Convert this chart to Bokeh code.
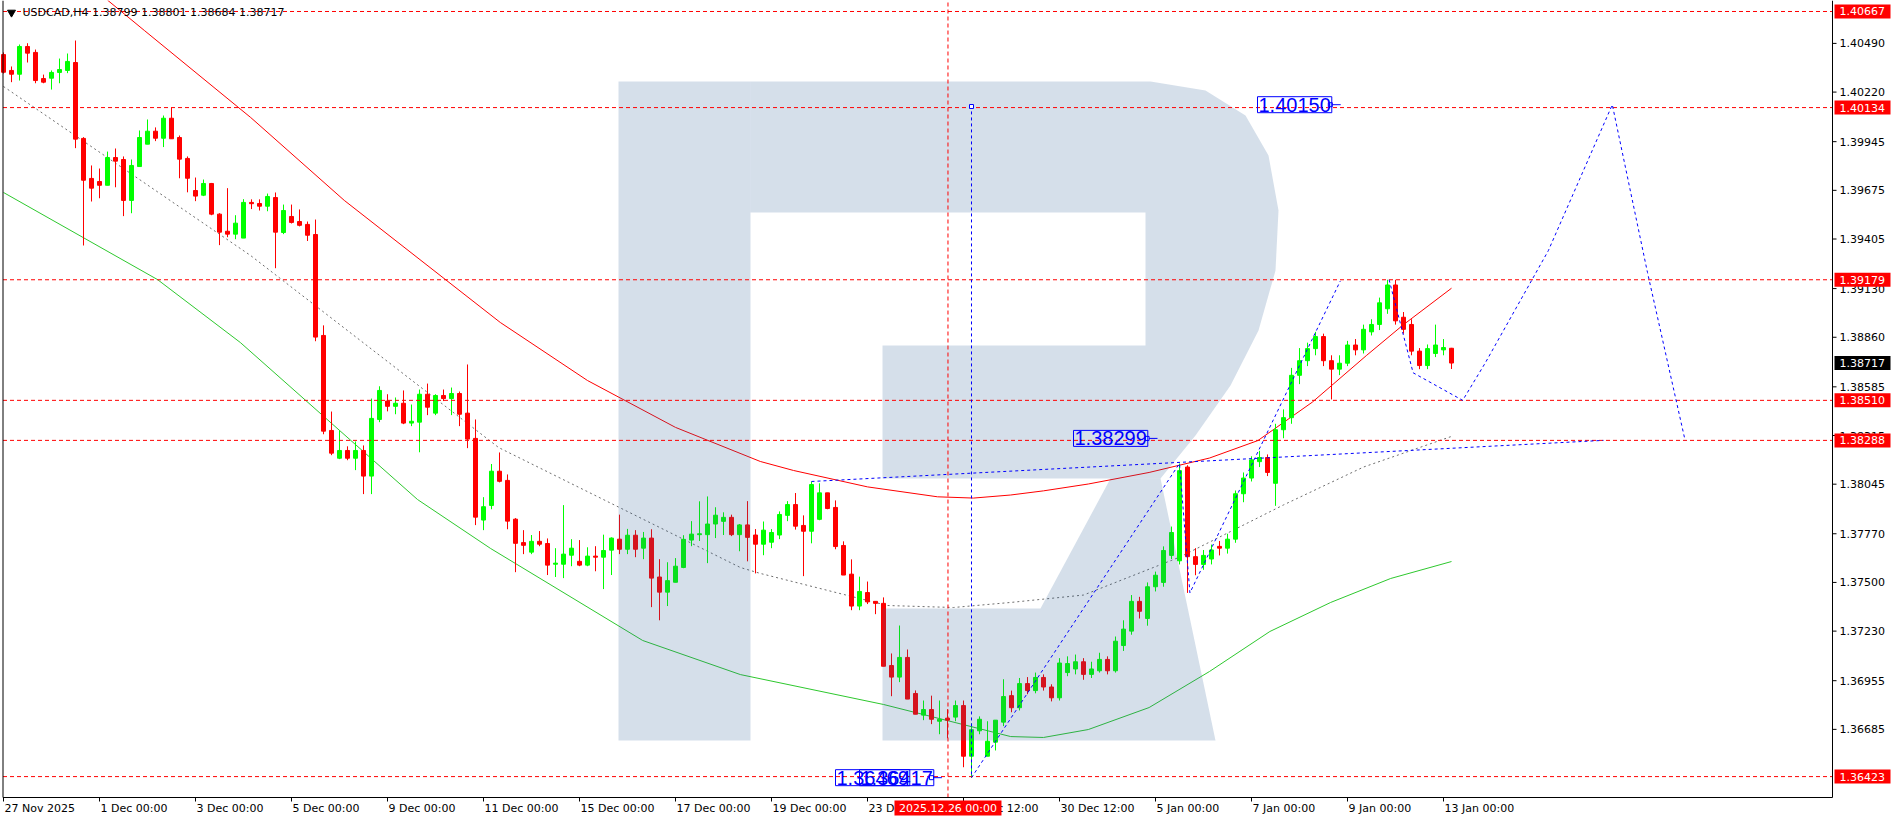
import numpy as np
from bokeh.plotting import figure
from bokeh.models import Range1d, Label
from bokeh.embed import file_html
from bokeh.resources import INLINE
from bokeh.core.properties import value

FONT = "DejaVu Sans"
NOTE_FONT = "Liberation Sans"

# ---------------- data (USDCAD H4) ----------------
bar_open = [1.40428,1.40340,1.40319,1.40473,1.40440,1.40295,1.40297,1.40329,1.40340,1.40384,
1.39963,1.39741,1.39724,1.39703,1.39857,1.39846,1.39619,1.39807,1.39931,1.40003,
1.39964,1.40075,1.39968,1.39852,1.39674,1.39648,1.39713,1.39543,1.39448,1.39432,
1.39410,1.39608,1.39602,1.39587,1.39635,1.39441,1.39530,1.39502,1.39486,1.39430,
1.38870,1.38343,1.38189,1.38232,1.38189,1.38232,1.38090,1.38404,1.38506,1.38477,
1.38494,1.38384,1.38389,1.38544,1.38439,1.38537,1.38520,1.38548,1.38439,1.38299,
1.37846,1.37927,1.38117,1.38066,1.37851,1.37721,1.37668,1.37728,1.37716,1.37601,
1.37601,1.37651,1.37617,1.37596,1.37646,1.37640,1.37679,1.37740,1.37684,1.37762,
1.37690,1.37746,1.37530,1.37446,1.37501,1.37583,1.37735,1.37765,1.37765,1.37824,
1.37839,1.37861,1.37765,1.37819,1.37763,1.37712,1.37723,1.37763,1.37872,1.37932,
1.37816,1.37784,1.37850,1.37997,1.37916,1.37705,1.37546,1.37369,1.37444,1.37395,
1.37384,1.37039,1.36975,1.37084,1.36884,1.36764,1.36795,1.36730,1.36747,1.36753,
1.36817,1.36536,1.36677,1.36536,1.36614,1.36725,1.36872,1.36805,1.36939,1.36900,
1.36973,1.36920,1.36860,1.37000,1.37020,1.37060,1.36990,1.37010,1.37073,1.37010,
1.37150,1.37230,1.37395,1.37300,1.37476,1.37500,1.37650,1.37620,1.38140,1.37643,
1.37600,1.37630,1.37700,1.37690,1.37740,1.37992,1.38079,1.38170,1.38193,1.38050,
1.38347,1.38414,1.38649,1.38730,1.38797,1.38864,1.38730,1.38683,1.38716,1.38817,
1.38790,1.38890,1.38931,1.39018,1.39150,1.38971,1.38931,1.38783,1.38703,1.38770,
1.38790,1.38799]
bar_high = [1.40440,1.40362,1.40484,1.40491,1.40456,1.40317,1.40340,1.40406,1.40434,1.40506,
1.39970,1.39813,1.39796,1.39890,1.39907,1.39863,1.39846,1.40007,1.40068,1.40024,
1.40090,1.40133,1.39979,1.39863,1.39746,1.39735,1.39716,1.39548,1.39687,1.39537,
1.39626,1.39625,1.39625,1.39657,1.39663,1.39596,1.39596,1.39569,1.39502,1.39513,
1.38926,1.38448,1.38343,1.38255,1.38282,1.38260,1.38520,1.38588,1.38544,1.38526,
1.38565,1.38487,1.38570,1.38603,1.38544,1.38570,1.38581,1.38559,1.38709,1.38404,
1.37973,1.38157,1.38221,1.38099,1.37857,1.37790,1.37763,1.37785,1.37744,1.37690,
1.37929,1.37740,1.37735,1.37695,1.37701,1.37765,1.37750,1.37876,1.37797,1.37790,
1.37780,1.37795,1.37629,1.37612,1.37635,1.37762,1.37840,1.37950,1.37977,1.37917,
1.37889,1.37876,1.37824,1.37951,1.37796,1.37838,1.37796,1.37894,1.37951,1.37996,
1.37872,1.38060,1.38050,1.37997,1.37955,1.37728,1.37628,1.37532,1.37505,1.37395,
1.37417,1.37106,1.37261,1.37128,1.36901,1.36845,1.36872,1.36845,1.36797,1.36845,
1.36845,1.36719,1.36757,1.36730,1.36736,1.36963,1.36900,1.36970,1.36975,1.37000,
1.36990,1.36935,1.37080,1.37090,1.37100,1.37080,1.37060,1.37110,1.37090,1.37200,
1.37290,1.37430,1.37420,1.37500,1.37560,1.37700,1.37810,1.38160,1.38150,1.37690,
1.37680,1.37710,1.37730,1.37770,1.38010,1.38110,1.38200,1.38230,1.38210,1.38380,
1.38460,1.38690,1.38800,1.38830,1.38890,1.38880,1.38760,1.38760,1.38840,1.38850,
1.38930,1.38960,1.39080,1.39179,1.39179,1.39000,1.38960,1.38800,1.38820,1.38930,
1.38850,1.38801]
bar_low = [1.40323,1.40275,1.40284,1.40384,1.40269,1.40269,1.40234,1.40269,1.40325,1.39909,
1.39369,1.39613,1.39631,1.39703,1.39692,1.39532,1.39548,1.39807,1.39931,1.39948,
1.39915,1.39961,1.39742,1.39664,1.39615,1.39643,1.39537,1.39371,1.39415,1.39404,
1.39410,1.39571,1.39563,1.39559,1.39243,1.39432,1.39491,1.39475,1.39394,1.38838,
1.38322,1.38206,1.38184,1.38178,1.38123,1.37990,1.37990,1.38389,1.38449,1.38433,
1.38378,1.38367,1.38222,1.38428,1.38428,1.38506,1.38428,1.38367,1.38245,1.37818,
1.37790,1.37906,1.38055,1.37795,1.37557,1.37657,1.37657,1.37701,1.37541,1.37530,
1.37524,1.37590,1.37590,1.37590,1.37562,1.37463,1.37541,1.37657,1.37657,1.37640,
1.37629,1.37363,1.37290,1.37369,1.37501,1.37579,1.37701,1.37730,1.37607,1.37746,
1.37763,1.37757,1.37673,1.37617,1.37550,1.37651,1.37690,1.37740,1.37840,1.37793,
1.37535,1.37717,1.37845,1.37906,1.37684,1.37541,1.37346,1.37346,1.37380,1.37324,
1.37035,1.36869,1.36947,1.36853,1.36769,1.36736,1.36714,1.36658,1.36636,1.36730,
1.36475,1.36417,1.36658,1.36536,1.36568,1.36703,1.36780,1.36790,1.36880,1.36885,
1.36900,1.36840,1.36845,1.36980,1.36990,1.36960,1.36970,1.37000,1.36990,1.37000,
1.37120,1.37210,1.37300,1.37260,1.37450,1.37476,1.37630,1.37600,1.37442,1.37540,
1.37570,1.37600,1.37650,1.37660,1.37720,1.37945,1.38060,1.38140,1.38090,1.37925,
1.38300,1.38380,1.38600,1.38700,1.38760,1.38700,1.38515,1.38650,1.38700,1.38760,
1.38770,1.38870,1.38900,1.38990,1.38930,1.38880,1.38760,1.38683,1.38683,1.38750,
1.38760,1.38684]
bar_close = [1.40330,1.40319,1.40473,1.40436,1.40284,1.40275,1.40329,1.40345,1.40390,1.39959,
1.39731,1.39687,1.39703,1.39857,1.39837,1.39619,1.39813,1.39968,1.40003,1.39964,
1.40075,1.39961,1.39848,1.39742,1.39643,1.39713,1.39543,1.39443,1.39432,1.39493,
1.39608,1.39601,1.39587,1.39641,1.39443,1.39563,1.39497,1.39481,1.39426,1.38861,
1.38339,1.38217,1.38232,1.38189,1.38232,1.38090,1.38410,1.38565,1.38477,1.38494,
1.38384,1.38394,1.38544,1.38472,1.38537,1.38520,1.38548,1.38433,1.38295,1.37862,
1.37920,1.38117,1.38061,1.37840,1.37717,1.37706,1.37728,1.37712,1.37596,1.37607,
1.37657,1.37690,1.37596,1.37646,1.37640,1.37677,1.37746,1.37684,1.37762,1.37684,
1.37746,1.37524,1.37446,1.37510,1.37590,1.37739,1.37768,1.37770,1.37824,1.37873,
1.37861,1.37765,1.37819,1.37750,1.37712,1.37790,1.37777,1.37877,1.37932,1.37812,
1.37784,1.38043,1.37997,1.37910,1.37699,1.37541,1.37369,1.37450,1.37392,1.37384,
1.37035,1.36975,1.37084,1.36853,1.36769,1.36795,1.36741,1.36741,1.36736,1.36817,
1.36536,1.36683,1.36741,1.36619,1.36736,1.36867,1.36805,1.36939,1.36900,1.36973,
1.36920,1.36860,1.37053,1.37050,1.37060,1.36990,1.37020,1.37073,1.37010,1.37174,
1.37241,1.37395,1.37340,1.37476,1.37540,1.37677,1.37777,1.38120,1.37643,1.37600,
1.37650,1.37680,1.37690,1.37740,1.37992,1.38079,1.38180,1.38193,1.38110,1.38347,
1.38414,1.38649,1.38730,1.38797,1.38864,1.38730,1.38683,1.38716,1.38817,1.38790,
1.38904,1.38931,1.39051,1.39150,1.38951,1.38904,1.38783,1.38703,1.38797,1.38817,
1.38803,1.38717]

# moving averages, read at selected bars
ma_red_bar = [13, 17.6, 30.9, 42.6, 62.1, 73, 84, 94.6, 98.75, 108, 116.75, 121.25, 125.9, 130, 135.6, 143.2, 150.75, 156.8, 163.6, 170.4, 175, 181]
ma_red_val = [1.40730, 1.40562, 1.40079, 1.39619, 1.38942, 1.38620, 1.38360, 1.38171, 1.38121, 1.38030, 1.37975, 1.37968, 1.37985, 1.38008, 1.38046, 1.38110, 1.38190, 1.38287, 1.38500, 1.38760, 1.38930, 1.39132]
ma_green_bar = [0, 19.25, 29.6, 51.75, 60.9, 79.9, 92.1, 110, 125.9, 130, 135.6, 143.2, 150.75, 158.3, 165.9, 173.4, 181]
ma_green_val = [1.39663, 1.39180, 1.38831, 1.37960, 1.37688, 1.37178, 1.36989, 1.36823, 1.36645, 1.36640, 1.36684, 1.36806, 1.37006, 1.37228, 1.37389, 1.37522, 1.37616]
ma_gray_bar = [0, 30.9, 61.9, 92.1, 94.6, 110.5, 118.75, 125.9, 135, 147, 160, 170, 181]
ma_gray_val = [1.40251, 1.39313, 1.38248, 1.37583, 1.37550, 1.37372, 1.37361, 1.37389, 1.37430, 1.37640, 1.37930, 1.38140, 1.38310]

# time axis
x_tick_bar = [0, 12, 24, 36, 48, 60, 72, 84, 96, 108, 120, 132, 144, 156, 168, 180]
x_tick_text = ["27 Nov 2025", "1 Dec 00:00", "3 Dec 00:00", "5 Dec 00:00", "9 Dec 00:00",
               "11 Dec 00:00", "15 Dec 00:00", "17 Dec 00:00", "19 Dec 00:00", "23 Dec 00:00",
               "26 Dec 12:00", "30 Dec 12:00", "5 Jan 00:00", "7 Jan 00:00", "9 Jan 00:00", "13 Jan 00:00"]
# price axis
y_tick_val = [1.40490, 1.40220, 1.39945, 1.39675, 1.39405, 1.39130, 1.38860, 1.38585,
              1.38315, 1.38045, 1.37770, 1.37500, 1.37230, 1.36955, 1.36685]
y_tick_text = ["1.40490", "1.40220", "1.39945", "1.39675", "1.39405", "1.39130", "1.38860", "1.38585",
               "1.38315", "1.38045", "1.37770", "1.37500", "1.37230", "1.36955", "1.36685"]

# horizontal levels
level_val = [1.40667, 1.40134, 1.39179, 1.38510, 1.38288, 1.36423]
level_text = ["1.40667", "1.40134", "1.39179", "1.38510", "1.38288", "1.36423"]
last_price = 1.38717
last_text = "1.38717"
cursor_bar = 118.06
cursor_text = "2025.12.26 00:00"
title_text = "USDCAD,H4  1.38799 1.38801 1.38684 1.38717"

# forecast drawings (bar index, price)
fc_vert_bar = 121
fc_vert_top = 1.40140
fc_vert_bottom = 1.36435
fc_wave_bar = [121, 147, 148.3, 167.1]
fc_wave_val = [1.36417, 1.38160, 1.37442, 1.39172]
fc_trend_bar = [101, 200]
fc_trend_val = [1.38060, 1.38288]
fc_path_bar = [173.2, 176.2, 182.4, 185.2, 193.1, 201.1, 205.5, 210.2]
fc_path_val = [1.39179, 1.38663, 1.38510, 1.38716, 1.39340, 1.40150, 1.39219, 1.38288]
note_bar = [156.75, 133.75]
note_val = [1.40150, 1.38299]
note_text = ["1.40150", "1.38299"]
low_note_bar = [104.0, 107.0]
low_note_text = ["1.36469", "1.36417"]
low_note_val = 1.36417

# ---------------- figure: one frame over the whole canvas ----------------
W, H = 1892, 818
PPB = 8.0                    # pixels per bar
PPP = 1.0 / 0.00005547       # pixels per price unit
X0 = -3 / PPB
Y_TOP = 1.40728
Y_BOT = Y_TOP - H / PPP

p = figure(frame_width=W, frame_height=H, x_range=Range1d(X0, X0 + W / PPB),
           y_range=Range1d(Y_BOT, Y_TOP), x_axis_location=None, y_axis_location=None,
           output_backend="svg", toolbar_location=None,
           min_border_left=0, min_border_right=0, min_border_top=0, min_border_bottom=0,
           background_fill_color="white", border_fill_color="white")
p.outline_line_color = None
p.xgrid.visible = False
p.ygrid.visible = False

def bx(px_):       # bar coordinate of a canvas x (decoration only)
    return X0 + px_ / PPB

def py(px_):       # price coordinate of a canvas y (decoration only)
    return Y_TOP - px_ / PPP

X_LEFT, X_RIGHT = bx(2.5), bx(1832)
Y_BOTTOM = py(797)

# moving averages
p.line(ma_red_bar, ma_red_val, line_color="red", line_width=1)
p.line(ma_green_bar, ma_green_val, line_color="#2ec82e", line_width=1)
p.line(ma_gray_bar, ma_gray_val, line_color="#6e6e6e", line_width=1, line_dash="2 3")

# candles
idx = np.arange(len(bar_open))
o = np.array(bar_open); c = np.array(bar_close)
cols = ["#00ff00" if cc >= oo else "#ff0000" for oo, cc in zip(o, c)]
p.segment(x0=idx, y0=bar_low, x1=idx, y1=bar_high, line_color=cols, line_width=1)
p.vbar(x=idx, width=0.5, top=np.maximum(o, c), bottom=np.minimum(o, c),
       fill_color=cols, line_color=cols, line_width=1)

# watermark logo (decoration), outline in canvas pixels
logo_parts = [
    [(618, 81), (750, 81), (750, 740), (618, 740)],
    [(750, 81), (1150, 81), (1205, 90), (1245, 115), (1268, 155), (1278, 210), (1275, 270),
     (1258, 330), (1230, 385), (1195, 435), (1160, 478), (882, 478), (882, 345), (1145, 345),
     (1145, 212), (750, 212)],
    [(882, 608), (1040, 608), (1110, 478), (1160, 478), (1215, 740), (882, 740)],
]
p.patches([[bx(a) for a, b in part] for part in logo_parts],
          [[py(b) for a, b in part] for part in logo_parts],
          fill_color="#2d5f96", fill_alpha=0.2, line_color=None)

# level lines and cursor
BLUE = "#0000ff"
p.segment(x0=[X_LEFT] * len(level_val), y0=level_val, x1=[X_RIGHT] * len(level_val), y1=level_val,
          line_color="red", line_dash="4 3", line_width=1)
p.segment(x0=[cursor_bar], y0=[Y_BOTTOM], x1=[cursor_bar], y1=[py(2)],
          line_color="red", line_dash="4 3", line_width=1)

# forecast drawings
p.segment(x0=[fc_vert_bar], y0=[fc_vert_bottom], x1=[fc_vert_bar], y1=[fc_vert_top],
          line_color=BLUE, line_dash="3 3", line_width=1)
p.line(fc_wave_bar, fc_wave_val, line_color=BLUE, line_dash="3 3", line_width=1)
p.line(fc_trend_bar, fc_trend_val, line_color=BLUE, line_dash="3 3", line_width=1)
p.line(fc_path_bar, fc_path_val, line_color=BLUE, line_dash="3 3", line_width=1)
p.scatter([fc_vert_bar], [fc_vert_top], marker="square", size=4, fill_color="white", line_color=BLUE)

# chart border
p.segment(x0=[X_LEFT, X_RIGHT, X_LEFT], y0=[py(0), py(0), Y_BOTTOM],
          x1=[X_LEFT, X_RIGHT, X_RIGHT], y1=[Y_BOTTOM, Y_BOTTOM, Y_BOTTOM],
          line_color="black", line_width=1)

# price axis
p.segment(x0=[X_RIGHT] * len(y_tick_val), y0=y_tick_val, x1=[X_RIGHT + 0.5] * len(y_tick_val), y1=y_tick_val,
          line_color="black", line_width=1)
p.text(x=[bx(1839)] * len(y_tick_val), y=y_tick_val, text=y_tick_text, text_font=value(FONT),
       text_font_size=value("11px"), text_color="black", text_align="left", text_baseline="middle")

# time axis
p.segment(x0=x_tick_bar, y0=[Y_BOTTOM] * len(x_tick_bar), x1=x_tick_bar, y1=[py(801)] * len(x_tick_bar),
          line_color="black", line_width=1)
p.text(x=x_tick_bar, y=[py(801)] * len(x_tick_bar), text=x_tick_text, x_offset=1, text_font=value(FONT),
       text_font_size=value("11px"), text_color="black", text_align="left", text_baseline="top")

# axis markers
AXC = bx(1862)
p.rect(x=[AXC] * len(level_val), y=level_val, width=56, height=14, width_units="screen",
       height_units="screen", fill_color="#ff0000", line_color=None)
p.text(x=[bx(1839)] * len(level_val), y=level_val, text=level_text, text_font=value(FONT),
       text_font_size=value("11px"), text_color="white", text_align="left", text_baseline="middle")
p.rect(x=[AXC], y=[last_price], width=56, height=14, width_units="screen", height_units="screen",
       fill_color="black", line_color=None)
p.text(x=[bx(1839)], y=[last_price], text=[last_text], text_font=value(FONT),
       text_font_size=value("11px"), text_color="white", text_align="left", text_baseline="middle")
p.rect(x=[cursor_bar], y=[py(807.5)], width=107, height=15, width_units="screen", height_units="screen",
       fill_color="#ff0000", line_color=None)
p.text(x=[cursor_bar], y=[py(807.5)], text=[cursor_text], text_font=value(FONT),
       text_font_size=value("11px"), text_color="white", text_align="center", text_baseline="middle")

# title
p.scatter([bx(11)], [py(12)], marker="inverted_triangle", size=8, color="black")
p.text(x=[bx(22)], y=[py(12)], text=[title_text], text_font=value(FONT), text_font_size=value("11px"),
       text_color="black", text_align="left", text_baseline="middle")

# notes
for b, v, t in zip(note_bar, note_val, note_text):
    p.add_layout(Label(x=b, y=v, text=t, text_font=NOTE_FONT, text_font_size="20px",
                       text_color=BLUE, text_baseline="middle", border_line_color=BLUE,
                       border_line_width=1, padding=1))
for b, t in zip(low_note_bar, low_note_text):
    p.add_layout(Label(x=b, y=low_note_val, text=t, text_font=NOTE_FONT, text_font_size="20px",
                       text_color=BLUE, text_baseline="middle", border_line_color=BLUE,
                       border_line_width=1, padding=1))
# note pointers
ptr_bar = [note_bar[0] + 9.1, note_bar[1] + 9.2, low_note_bar[1] + 9.0]
ptr_val = [note_val[0], note_val[1], low_note_val]
p.segment(x0=ptr_bar, y0=ptr_val, x1=[b + 1.3 for b in ptr_bar], y1=ptr_val, line_color=BLUE, line_width=1)
p.scatter(ptr_bar, ptr_val, marker="square", size=4, fill_color="white", line_color=BLUE)

open("out.html", "w").write(file_html(p, INLINE))
